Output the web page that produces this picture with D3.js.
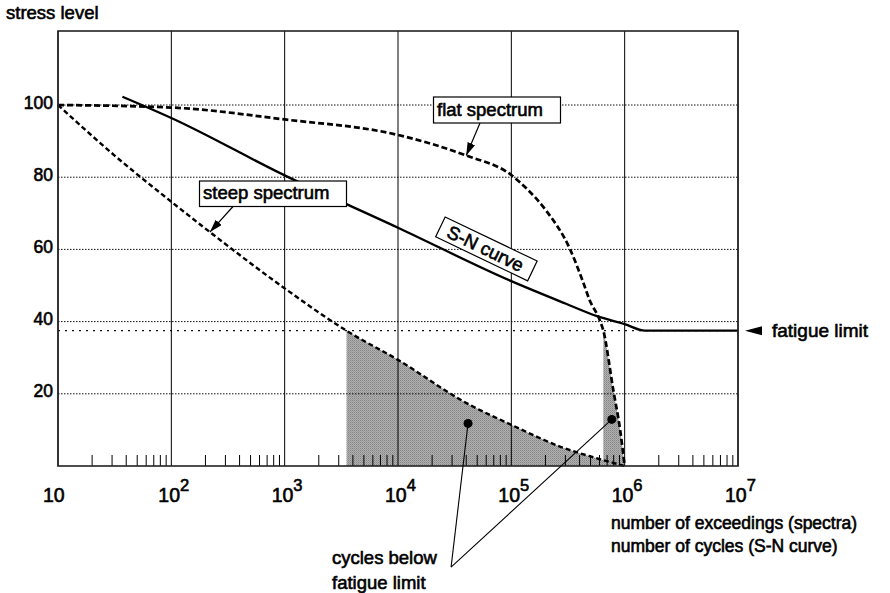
<!DOCTYPE html>
<html><head><meta charset="utf-8">
<script src="https://cdn.jsdelivr.net/npm/d3@7"></script>
<style>
body{margin:0;background:#fff;}
svg text{font-family:"Liberation Sans",Arial,sans-serif;fill:#000;stroke:#000;stroke-width:0.6px;}
</style></head><body>
<svg id="c" width="890" height="593"></svg>
<script>
// ---- data ----
const decadeExponents = [1, 2, 3, 4, 5, 6, 7];
const minorMultipliers = [2, 3, 4, 5, 6, 7, 8, 9];
const yTickValues = [20, 40, 60, 80, 100];
const fatigueLimit = 37.5;

const snN = [37, 100, 1000, 1e4, 1e5, 3e5, 5.7e5, 1e6, 1.51e6, 1e7];
const snS = [102.3, 96.4, 80.5, 66, 51.2, 45, 41.5, 39.3, 37.5, 37.5];

const flatN = [10, 100, 1000, 1e4, 4e4, 1e5, 1.4e5, 2e5, 3.3e5, 4.27e5, 4.9e5, 6.03e5, 6.46e5, 7.94e5, 9.12e5, 1e6];
const flatS = [100, 99.3, 96, 91.7, 86, 80.6, 76.5, 71, 60, 51.2, 46, 40.4, 37.7, 21, 10, 0];

const steepN = [10, 31.6, 100, 219, 1000, 3630, 1e4, 3.98e4, 1e5, 2.9e5, 5.6e5, 1e6];
const steepS = [100, 86, 73.2, 64.8, 49.2, 37.2, 29.4, 17.5, 11.4, 5, 2.2, 0];

const dotN = [4.15e4, 7.7e5];
const dotS = [11.8, 12.9];
const leaderMeetN = 2.94e4, leaderMeetS = -28;

// ---- setup ----
const svg = d3.select("#c");
const x = d3.scaleLog().domain([10, 1e7]).range([58, 738]);
const y = d3.scaleLinear().domain([0, 120.5]).range([466, 31]);
const X0 = x.range()[0], X1 = x.range()[1], Y0 = y(0), Y1 = y.range()[1];

const defs = svg.append("defs");
const pat = defs.append("pattern").attr("id", "dither").attr("width", 2).attr("height", 2)
  .attr("patternUnits", "userSpaceOnUse");
pat.append("rect").attr("width", 2).attr("height", 2).attr("fill", "#b0b0b0");
pat.append("rect").attr("width", 1).attr("height", 1).attr("fill", "#858585");
pat.append("rect").attr("x", 1).attr("y", 1).attr("width", 1).attr("height", 1).attr("fill", "#999");

defs.append("marker").attr("id", "ah").attr("markerUnits", "userSpaceOnUse")
  .attr("markerWidth", 14).attr("markerHeight", 10).attr("refX", 13).attr("refY", 4)
  .attr("orient", "auto")
  .append("path").attr("d", "M0,0 L13,4 L0,8 Z").attr("fill", "#000");

function crossN(Ns, Ss, level) {
  for (let i = 0; i < Ns.length - 1; i++) {
    if (Ss[i] >= level && Ss[i + 1] < level) {
      const t = (Ss[i] - level) / (Ss[i] - Ss[i + 1]);
      return Math.pow(10, Math.log10(Ns[i]) + t * (Math.log10(Ns[i + 1]) - Math.log10(Ns[i])));
    }
  }
  return Ns[Ns.length - 1];
}
const steepData = steepN.map((n, i) => [n, steepS[i]]);
const flatData = flatN.map((n, i) => [n, flatS[i]]);
const snData = snN.map((n, i) => [n, snS[i]]);

const line = d3.line().x(d => x(d[0])).y(d => y(d[1])).curve(d3.curveMonotoneX);
const area = d3.area().x(d => x(d[0])).y0(y(0)).y1(d => y(d[1])).curve(d3.curveMonotoneX);

// ---- shaded regions ----
[["steep", steepData, steepN, steepS], ["flat", flatData, flatN, flatS]].forEach(([id, data, Ns, Ss]) => {
  const cx = x(crossN(Ns, Ss, fatigueLimit));
  defs.append("clipPath").attr("id", "clip-" + id).append("rect")
    .attr("x", cx).attr("y", y(fatigueLimit)).attr("width", X1 - cx).attr("height", Y0 - y(fatigueLimit));
  svg.append("path").attr("d", area(data)).attr("fill", "url(#dither)")
    .attr("clip-path", "url(#clip-" + id + ")");
});

// ---- grid ----
svg.append("g").selectAll("line").data(yTickValues).join("line")
  .attr("x1", X0).attr("x2", X1).attr("y1", d => y(d)).attr("y2", d => y(d))
  .attr("stroke", "#111").attr("stroke-width", 1).attr("stroke-dasharray", "1.5,1.5");
svg.append("line").attr("x1", X0).attr("x2", X1).attr("y1", y(fatigueLimit)).attr("y2", y(fatigueLimit))
  .attr("stroke", "#111").attr("stroke-width", 1.3).attr("stroke-dasharray", "2,5");

svg.append("g").selectAll("line").data(decadeExponents).join("line")
  .attr("x1", d => x(10 ** d)).attr("x2", d => x(10 ** d)).attr("y1", Y1).attr("y2", Y0)
  .attr("stroke", "#000").attr("stroke-width", 1);

const minors = [];
decadeExponents.slice(0, -1).forEach(e => minorMultipliers.forEach(m => minors.push(m * 10 ** e)));
svg.append("g").selectAll("line").data(minors).join("line")
  .attr("x1", d => x(d)).attr("x2", d => x(d)).attr("y1", Y0).attr("y2", Y0 - 11)
  .attr("stroke", "#000").attr("stroke-width", 1);

// ---- curves ----
svg.append("path").attr("d", line(snData)).attr("fill", "none").attr("stroke", "#000").attr("stroke-width", 2.3);
svg.append("path").attr("d", line(flatData)).attr("fill", "none").attr("stroke", "#000")
  .attr("stroke-width", 2.7).attr("stroke-dasharray", "6,3");
svg.append("path").attr("d", line(steepData)).attr("fill", "none").attr("stroke", "#000")
  .attr("stroke-width", 2.4).attr("stroke-dasharray", "5,3");

// ---- frame ----
svg.append("rect").attr("x", X0).attr("y", Y1).attr("width", X1 - X0).attr("height", Y0 - Y1)
  .attr("fill", "none").attr("stroke", "#222").attr("stroke-width", 1.6);

// ---- axis labels ----
svg.append("g").selectAll("text").data(yTickValues).join("text")
  .attr("x", 53).attr("y", d => y(d) + 3.5).attr("text-anchor", "end")
  .style("font-size", "17.5px").text(d => d);

decadeExponents.forEach(e => {
  const t = svg.append("text").attr("x", x(10 ** e) - (e === 1 ? 15 : 13)).attr("y", 502)
    .style("font-size", "19.5px");
  t.append("tspan").text("10");
  if (e > 1) t.append("tspan").attr("dy", -11).style("font-size", "16.5px").text(e);
});

svg.append("text").attr("x", 6).attr("y", 18.5).style("font-size", "18.5px").text("stress level");

const xt = svg.append("text").style("font-size", "17.5px");
xt.append("tspan").attr("x", 611).attr("y", 529).text("number of exceedings (spectra)");
xt.append("tspan").attr("x", 611).attr("y", 551.5).text("number of cycles (S-N curve)");

// ---- fatigue limit marker ----
const fy = y(fatigueLimit);
svg.append("path").attr("d", `M745,${fy} L762,${fy - 4.5} L762,${fy + 4.5} Z`).attr("fill", "#000");
svg.append("text").attr("x", 772).attr("y", fy + 6.5).style("font-size", "19px").text("fatigue limit");

// ---- annotation boxes ----
function box(bx, by, bw, bh, label, tx, ty) {
  svg.append("rect").attr("x", bx).attr("y", by).attr("width", bw).attr("height", bh)
    .attr("fill", "#fff").attr("stroke", "#000").attr("stroke-width", 1.2);
  svg.append("text").attr("x", tx).attr("y", ty).style("font-size", "18.5px").text(label);
}
box(433.5, 97, 127, 26, "flat spectrum", 437, 115.5);
box(199.5, 181, 147, 25.5, "steep spectrum", 203, 199);

svg.append("line").attr("x1", 480).attr("y1", 123).attr("x2", x(4e4)).attr("y2", y(86))
  .attr("stroke", "#000").attr("stroke-width", 1.2).attr("marker-end", "url(#ah)");
svg.append("line").attr("x1", 233).attr("y1", 206.5).attr("x2", x(219)).attr("y2", y(64.8))
  .attr("stroke", "#000").attr("stroke-width", 1.2).attr("marker-end", "url(#ah)");

const sn = svg.append("g").attr("transform", "translate(486.4,248.9) rotate(25.6)");
sn.append("rect").attr("x", -51).attr("y", -11).attr("width", 102).attr("height", 22)
  .attr("fill", "#fff").attr("stroke", "#000").attr("stroke-width", 1.2);
sn.append("text").attr("x", -1).attr("y", 6.5).attr("text-anchor", "middle").style("font-size", "18.5px").text("S-N curve");

// ---- dots and leader lines ----
dotN.forEach((n, i) => {
  svg.append("line").attr("x1", x(n)).attr("y1", y(dotS[i])).attr("x2", x(leaderMeetN)).attr("y2", y(leaderMeetS))
    .attr("stroke", "#000").attr("stroke-width", 1.1);
  svg.append("circle").attr("cx", x(n)).attr("cy", y(dotS[i])).attr("r", 4.5).attr("fill", "#000");
});

const ct = svg.append("text").style("font-size", "18.5px");
ct.append("tspan").attr("x", 332).attr("y", 564).text("cycles below");
ct.append("tspan").attr("x", 332).attr("y", 589).text("fatigue limit");
</script>
</body></html>
